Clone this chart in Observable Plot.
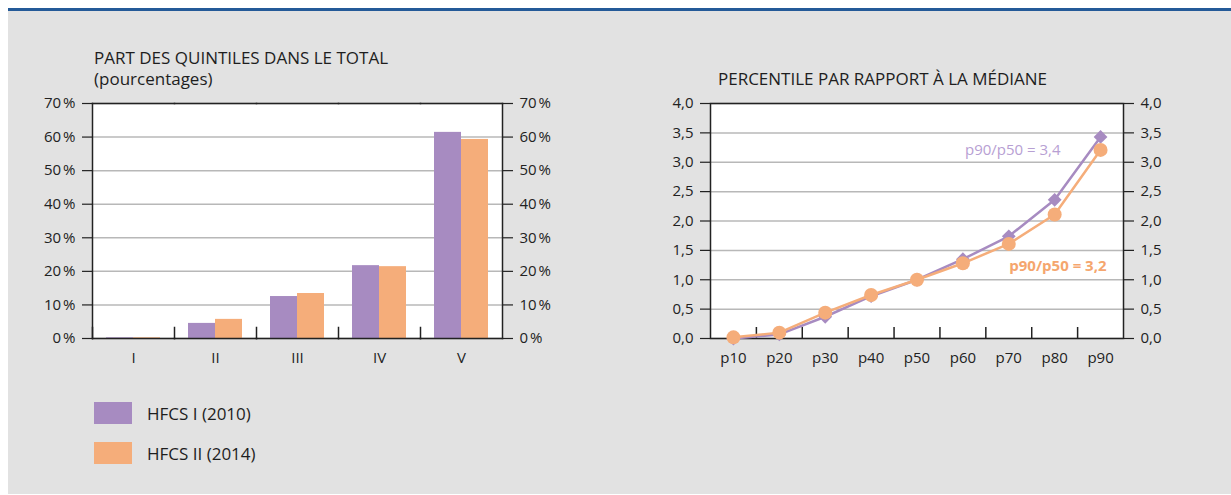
<!DOCTYPE html>
<html>
<head>
<meta charset="utf-8">
<script src="https://cdn.jsdelivr.net/npm/d3@7"></script>
<script src="https://cdn.jsdelivr.net/npm/@observablehq/plot@0.6"></script>
<style>
  html, body { margin: 0; padding: 0; background: #ffffff; }
  body { width: 1231px; height: 495px; position: relative; overflow: hidden; font-family: "Open Sans", sans-serif; color: #1e1e1e; }
  #panel { position: absolute; left: 8px; top: 8px; width: 1223px; height: 486px; background: #e2e2e2; border-top: 3px solid #245a98; box-sizing: border-box; }
  .title { position: absolute; font-size: 17px; line-height: 21px; white-space: nowrap; }
  .chart { position: absolute; }
  .legend { position: absolute; left: 94px; font-size: 17px; display: flex; align-items: center; white-space: nowrap; height: 22px; }
  .legend .sw { width: 38px; height: 22px; margin-right: 15px; flex: none; }
</style>
</head>
<body>
<div id="panel"></div>
<div class="title" style="left:94px; top:47px;">PART DES QUINTILES DANS LE TOTAL<br>(pourcentages)</div>
<div class="title" style="left:718px; top:68px;">PERCENTILE PAR RAPPORT À LA MÉDIANE</div>
<div class="chart" id="left" style="left:40px; top:90px;"></div>
<div class="chart" id="right" style="left:640px; top:90px;"></div>
<div id="legend"></div>
<script>
// ---- data ----
const series = ["HFCS I (2010)", "HFCS II (2014)"];
const seriesColors = ["#a78bc1", "#f5ad7a"];
const labelColors = ["#b7a0d3", "#f5a66e"];

const quintiles = ["I", "II", "III", "IV", "V"];
const share2010 = [0.2, 4.5, 12.5, 21.7, 61.4];
const share2014 = [0.2, 5.7, 13.4, 21.4, 59.3];

const percentileLabels = ["p10", "p20", "p30", "p40", "p50", "p60", "p70", "p80", "p90"];
const percentileRanks = [10, 20, 30, 40, 50, 60, 70, 80, 90];
const ratio2010 = [0.0, 0.07, 0.37, 0.72, 1.0, 1.35, 1.74, 2.36, 3.43];
const ratio2014 = [0.02, 0.1, 0.44, 0.74, 1.0, 1.28, 1.61, 2.11, 3.21];

// ---- helpers ----
const comma1 = d => d.toFixed(1).replace(".", ",");
const pct = d => d + "\u202f%";
const ink = "#222222";
const gridColor = "#b8b8b8";

// ---- left chart: grouped bars ----
const barData = quintiles.flatMap((q, i) => [
  {q, s: series[0], v: share2010[i]},
  {q, s: series[1], v: share2014[i]}
]);

const left = Plot.plot({
  width: 540, height: 290,
  marginLeft: 50, marginRight: 77, marginTop: 13, marginBottom: 42,
  style: {background: "transparent", fontFamily: "Open Sans, sans-serif", fontSize: "15px", color: ink},
  fx: {domain: quintiles, padding: 0, label: null},
  x: {domain: series, axis: null, paddingInner: 0, paddingOuter: 0.475},
  y: {domain: [0, 70], label: null, axis: null},
  color: {domain: series, range: seriesColors},
  marks: [
    Plot.frame({fill: "white", stroke: "white", strokeWidth: 1}),
    Plot.gridY({ticks: 7, stroke: gridColor, strokeOpacity: 1, strokeWidth: 1.5}),
    Plot.barY(barData, {fx: "q", x: "s", y: "v", fill: "s"}),
    Plot.frame({anchor: "top", stroke: ink, strokeWidth: 1.5}),
    Plot.frame({anchor: "bottom", stroke: ink, strokeWidth: 1.5}),
    Plot.frame({anchor: "left", facetAnchor: "left", stroke: ink, strokeWidth: 1.5}),
    Plot.frame({anchor: "right", facetAnchor: "right", stroke: ink, strokeWidth: 1.5}),
    Plot.frame({anchor: "left", insetTop: 224, stroke: ink, strokeWidth: 1.5}),
    Plot.axisY({anchor: "left", ticks: 7, tickSize: 10, tickPadding: 7, tickFormat: pct, label: null, stroke: ink, strokeWidth: 1.2}),
    Plot.axisY({anchor: "right", ticks: 7, tickSize: 10, tickPadding: 7, tickFormat: pct, label: null, stroke: ink, strokeWidth: 1.2}),
    Plot.axisFx({anchor: "bottom", tickSize: 0, tickPadding: 14, label: null})
  ]
});
document.getElementById("left").append(left);

// ---- right chart: lines ----
const lineData = series.flatMap((s, k) => percentileRanks.map((r, i) => ({
  s, r, v: (k === 0 ? ratio2010 : ratio2014)[i]
})));
const separators = d3.pairs(percentileRanks, (a, b) => (a + b) / 2);
const step = percentileRanks[1] - percentileRanks[0];
const last = k => lineData.filter(d => d.s === series[k]).at(-1);
const ratioLabel = k => {
  const arr = k === 0 ? ratio2010 : ratio2014;
  return `p90/p50 = ${comma1(arr[8] / arr[4])}`;
};

const right = Plot.plot({
  width: 560, height: 290,
  marginLeft: 70, marginRight: 77, marginTop: 13, marginBottom: 42,
  style: {background: "transparent", fontFamily: "Open Sans, sans-serif", fontSize: "15px", color: ink, overflow: "visible"},
  x: {domain: [percentileRanks[0] - step / 2, percentileRanks.at(-1) + step / 2], axis: null},
  y: {domain: [0, 4], label: null, axis: null},
  marks: [
    Plot.frame({fill: "white", stroke: null}),
    Plot.gridY({ticks: 8, stroke: gridColor, strokeOpacity: 1, strokeWidth: 1.5}),
    Plot.frame({stroke: ink, strokeWidth: 1.5}),
    Plot.ruleX(separators, {insetTop: 224, stroke: ink, strokeWidth: 1.5}),
    Plot.line(lineData.filter(d => d.s === series[0]), {x: "r", y: "v", stroke: seriesColors[0], strokeWidth: 2.5}),
    Plot.dot(lineData.filter(d => d.s === series[0]), {x: "r", y: "v", symbol: "diamond2", r: 6.2, fill: seriesColors[0], stroke: null}),
    Plot.line(lineData.filter(d => d.s === series[1]), {x: "r", y: "v", stroke: seriesColors[1], strokeWidth: 2.5}),
    Plot.dot(lineData.filter(d => d.s === series[1]), {x: "r", y: "v", r: 7, fill: seriesColors[1], stroke: null}),
    Plot.text([last(0)], {x: "r", y: "v", text: () => ratioLabel(0), textAnchor: "end", dx: -40, dy: 13, fill: labelColors[0], fontSize: 15}),
    Plot.text([last(1)], {x: "r", y: "v", text: () => ratioLabel(1), textAnchor: "end", dx: 6, dy: 116, fill: labelColors[1], fontSize: 15, fontWeight: "bold"}),
    Plot.axisY({anchor: "left", ticks: 8, tickSize: 10, tickPadding: 7, tickFormat: comma1, label: null, stroke: ink, strokeWidth: 1.2}),
    Plot.axisY({anchor: "right", ticks: 8, tickSize: 10, tickPadding: 7, tickFormat: comma1, label: null, stroke: ink, strokeWidth: 1.2}),
    Plot.axisX({ticks: percentileRanks, tickFormat: (d, i) => percentileLabels[i], tickSize: 0, tickPadding: 14, label: null})
  ]
});
document.getElementById("right").append(right);

// ---- legend ----
const legend = document.getElementById("legend");
series.forEach((s, k) => {
  const row = document.createElement("div");
  row.className = "legend";
  row.style.top = (402 + k * 40) + "px";
  row.innerHTML = `<div class="sw" style="background:${seriesColors[k]}"></div><span>${s}</span>`;
  legend.append(row);
});
</script>
</body>
</html>
